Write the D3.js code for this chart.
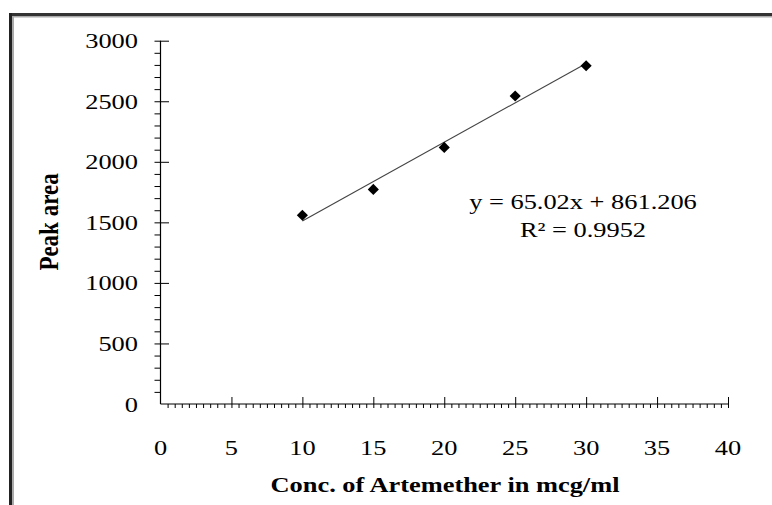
<!DOCTYPE html>
<html>
<head>
<meta charset="utf-8">
<script src="https://cdn.jsdelivr.net/npm/d3@7"></script>
<style>
  html, body { margin: 0; padding: 0; background: #fff; }
  svg { display: block; }
  text { font-family: "Liberation Serif", "Times New Roman", serif; fill: #000; }
</style>
</head>
<body>
<svg id="chart" width="772" height="505"></svg>
<script>
// ---- data ----
const concentrations = [10, 15, 20, 25, 30];
const peakAreas = [1559, 1772, 2119, 2543, 2793];
const xTicks = [0, 5, 10, 15, 20, 25, 30, 35, 40];
const yTicks = [0, 500, 1000, 1500, 2000, 2500, 3000];
const trendSlope = 65.02;
const trendIntercept = 861.206;
const trendRange = [10, 30];
const equationLines = ["y = 65.02x + 861.206", "R\u00B2 = 0.9952"];
const xTitle = "Conc. of Artemether in mcg/ml";
const yTitle = "Peak area";

const SX = 1.2; // horizontal stretch of the original picture's text

const svg = d3.select("#chart");

// frame (top and left border)
svg.append("rect").attr("x", 9).attr("y", 13).attr("width", 763).attr("height", 3).attr("fill", "#333");
svg.append("rect").attr("x", 12).attr("y", 16).attr("width", 760).attr("height", 1.5).attr("fill", "#aaa");
svg.append("rect").attr("x", 9).attr("y", 13).attr("width", 3).attr("height", 492).attr("fill", "#222");
svg.append("rect").attr("x", 12).attr("y", 16).attr("width", 2).attr("height", 489).attr("fill", "#aaa");

const x = d3.scaleLinear().domain([0, 40]).range([160.5, 728]);
const y = d3.scaleLinear().domain([0, 3000]).range([404, 40.7]);

const g = svg.append("g");

// y axis: minor ticks (left side), major ticks crossing
const yMinor = d3.range(0, 3001, 100).filter(v => v % 500 !== 0);
g.append("g").attr("transform", `translate(${x(0)},0)`)
  .call(d3.axisLeft(y).tickValues(yMinor).tickSize(6).tickFormat(""))
  .call(a => a.select(".domain").remove())
  .selectAll("line").attr("stroke", "#000").attr("stroke-width", 1);
g.append("g").attr("transform", `translate(${x(0)},0)`)
  .call(d3.axisLeft(y).tickValues(yTicks.filter(v => v > 0)).tickSize(6).tickFormat(""))
  .call(a => a.select(".domain").remove())
  .selectAll("line").attr("x2", -6).attr("x1", 8.5).attr("stroke", "#000");
g.append("line").attr("x1", x(0)).attr("x2", x(0)).attr("y1", y(3000)).attr("y2", y(0))
  .attr("stroke", "#000").attr("stroke-width", 1.2);

// x axis: minor ticks (below), major ticks crossing
const xMinor = d3.range(0, 40.01, 0.5).filter(v => v % 5 !== 0);
g.append("g").attr("transform", `translate(0,${y(0)})`)
  .call(d3.axisBottom(x).tickValues(xMinor).tickSize(4).tickFormat(""))
  .call(a => a.select(".domain").remove())
  .selectAll("line").attr("stroke", "#000");
g.append("g").attr("transform", `translate(0,${y(0)})`)
  .call(d3.axisBottom(x).tickValues(xTicks.filter(v => v > 0)).tickSize(4).tickFormat(""))
  .call(a => a.select(".domain").remove())
  .selectAll("line").attr("y1", -7).attr("y2", 4).attr("stroke", "#000");
g.append("line").attr("x1", x(0)).attr("x2", x(40)).attr("y1", y(0)).attr("y2", y(0))
  .attr("stroke", "#000").attr("stroke-width", 1.2);

// tick labels
g.selectAll(".ylab").data(yTicks).join("text")
  .attr("class", "ylab")
  .attr("transform", d => `translate(138,${y(d) + 7.5}) scale(${SX},1)`)
  .attr("text-anchor", "end")
  .attr("font-size", 22)
  .text(d => d);
g.selectAll(".xlab").data(xTicks).join("text")
  .attr("class", "xlab")
  .attr("transform", d => `translate(${x(d)},455) scale(${SX},1)`)
  .attr("text-anchor", "middle")
  .attr("font-size", 22)
  .text(d => d);

// axis titles
svg.append("text")
  .attr("transform", `translate(445,492) scale(${SX},1)`)
  .attr("text-anchor", "middle").attr("font-size", 22).attr("font-weight", "bold")
  .text(xTitle);
svg.append("text")
  .attr("transform", `translate(58,222) scale(${SX},1) rotate(-90)`)
  .attr("text-anchor", "middle").attr("font-size", 23).attr("font-weight", "bold")
  .text(yTitle);

// trend line
g.append("line")
  .attr("x1", x(trendRange[0])).attr("y1", y(trendSlope * trendRange[0] + trendIntercept))
  .attr("x2", x(trendRange[1])).attr("y2", y(trendSlope * trendRange[1] + trendIntercept))
  .attr("stroke", "#444").attr("stroke-width", 1.1);

// points
const diamond = d3.symbol().type(d3.symbolSquare).size(62);
g.selectAll(".pt").data(concentrations.map((c, i) => [c, peakAreas[i]])).join("path")
  .attr("class", "pt")
  .attr("d", diamond)
  .attr("transform", d => `translate(${x(d[0])},${y(d[1])}) rotate(45)`)
  .attr("fill", "#000");

// equation
svg.selectAll(".eq").data(equationLines).join("text")
  .attr("class", "eq")
  .attr("transform", (d, i) => `translate(583,${209 + i * 28}) scale(${SX},1)`)
  .attr("text-anchor", "middle").attr("font-size", 22)
  .text(d => d);
</script>
</body>
</html>
